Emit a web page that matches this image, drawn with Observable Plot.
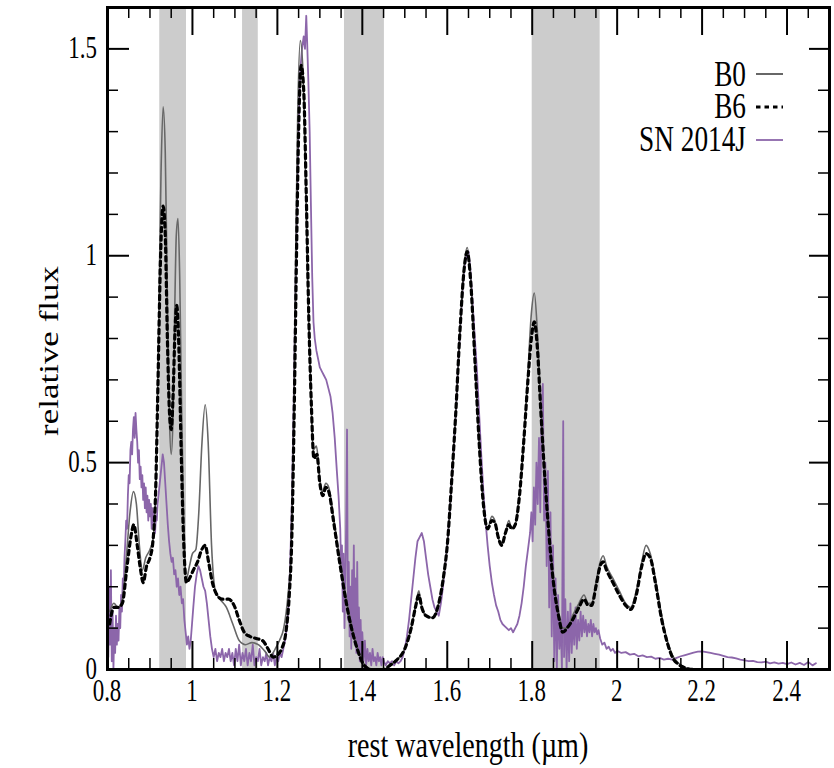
<!DOCTYPE html>
<html>
<head>
<meta charset="utf-8">
<script src="https://cdn.jsdelivr.net/npm/d3@7"></script>
<script src="https://cdn.jsdelivr.net/npm/@observablehq/plot@0.6"></script>
<style>
  html, body { margin: 0; padding: 0; background: #fff; }
  #chart { width: 834px; height: 768px; }
</style>
</head>
<body>
<div id="chart"></div>
<script>
// ---------------- data ----------------
const seriesNames = ["B0", "B6", "SN 2014J"];

const wavelengthMajor = [0.8, 1.0, 1.2, 1.4, 1.6, 1.8, 2.0, 2.2, 2.4];
const wavelengthLabels = ["0.8", "1", "1.2", "1.4", "1.6", "1.8", "2", "2.2", "2.4"];
const fluxMajor = [0, 0.5, 1.0, 1.5];
const fluxLabels = ["0", "0.5", "1", "1.5"];

const bandStart = [0.923, 1.118, 1.358, 1.800];
const bandEnd   = [0.986, 1.155, 1.452, 1.960];

const xTitle = "rest wavelength (µm)";
const yTitle = "relative flux";

// model B0 [wavelength µm, relative flux]
const B0 = [
 [0.805,0.14],[0.815,0.16],[0.825,0.15],[0.835,0.17],[0.845,0.28],[0.853,0.38],[0.861,0.43],[0.868,0.40],
 [0.875,0.30],[0.882,0.24],[0.890,0.27],[0.900,0.29],[0.908,0.32],[0.914,0.45],[0.920,0.80],[0.926,1.20],
 [0.931,1.36],[0.936,1.25],[0.941,0.90],[0.946,0.60],[0.950,0.52],[0.954,0.60],[0.958,0.85],[0.962,1.05],
 [0.966,1.09],[0.970,0.95],[0.975,0.60],[0.980,0.35],[0.986,0.22],[0.993,0.25],[1.000,0.28],[1.008,0.29],
 [1.015,0.38],[1.022,0.54],[1.030,0.64],[1.037,0.55],[1.045,0.30],[1.054,0.19],[1.065,0.17],[1.080,0.15],
 [1.095,0.11],[1.110,0.07],[1.125,0.06],[1.140,0.065],[1.155,0.06],[1.170,0.045],[1.182,0.03],[1.195,0.05],
 [1.205,0.07],[1.215,0.10],[1.225,0.18],[1.232,0.28],[1.238,0.58],[1.243,1.00],[1.248,1.35],[1.254,1.52],
 [1.260,1.45],[1.266,1.20],[1.272,0.90],[1.278,0.70],[1.284,0.53],[1.292,0.54],[1.300,0.46],[1.306,0.43],
 [1.314,0.45],[1.321,0.44],[1.332,0.37],[1.348,0.26],[1.368,0.14],[1.388,0.055],[1.403,0.015],[1.420,0.002],
 [1.450,0.0],[1.465,0.01],[1.480,0.022],[1.500,0.05],[1.515,0.10],[1.525,0.15],[1.533,0.19],[1.540,0.15],
 [1.550,0.13],[1.565,0.125],[1.580,0.16],[1.592,0.23],[1.600,0.30],[1.610,0.45],[1.620,0.62],[1.630,0.82],
 [1.640,0.98],[1.647,1.02],[1.655,0.95],[1.665,0.75],[1.675,0.55],[1.685,0.40],[1.695,0.34],[1.705,0.37],
 [1.712,0.36],[1.720,0.32],[1.728,0.30],[1.737,0.33],[1.745,0.36],[1.752,0.34],[1.760,0.35],[1.770,0.42],
 [1.780,0.55],[1.790,0.72],[1.798,0.86],[1.805,0.91],[1.812,0.82],[1.820,0.65],[1.830,0.47],[1.840,0.33],
 [1.850,0.22],[1.862,0.14],[1.872,0.10],[1.882,0.10],[1.895,0.13],[1.910,0.16],[1.922,0.18],[1.932,0.16],
 [1.940,0.16],[1.950,0.21],[1.960,0.26],[1.967,0.275],[1.975,0.25],[1.990,0.22],[2.005,0.19],[2.020,0.16],
 [2.032,0.15],[2.045,0.19],[2.058,0.26],[2.068,0.30],[2.078,0.28],[2.090,0.22],[2.105,0.13],[2.118,0.07],
 [2.130,0.035],[2.145,0.015],[2.160,0.005],[2.180,0.0],[2.500,0.0]
];

// model B6
const B6 = [
 [0.805,0.11],[0.815,0.15],[0.825,0.15],[0.835,0.16],[0.845,0.24],[0.855,0.32],[0.862,0.35],[0.870,0.30],
 [0.878,0.24],[0.884,0.21],[0.892,0.25],[0.900,0.27],[0.907,0.31],[0.913,0.42],[0.919,0.70],[0.925,1.00],
 [0.931,1.12],[0.936,1.05],[0.941,0.80],[0.946,0.62],[0.950,0.58],[0.954,0.65],[0.959,0.82],[0.963,0.88],
 [0.968,0.78],[0.973,0.55],[0.979,0.32],[0.986,0.21],[0.993,0.22],[1.002,0.24],[1.012,0.26],[1.022,0.29],
 [1.030,0.30],[1.038,0.26],[1.047,0.21],[1.058,0.18],[1.070,0.17],[1.085,0.17],[1.098,0.155],[1.110,0.12],
 [1.122,0.09],[1.135,0.08],[1.150,0.075],[1.165,0.07],[1.178,0.05],[1.190,0.03],[1.200,0.035],[1.210,0.05],
 [1.220,0.09],[1.228,0.18],[1.234,0.32],[1.240,0.65],[1.245,1.00],[1.250,1.30],[1.256,1.46],[1.262,1.40],
 [1.268,1.15],[1.274,0.85],[1.280,0.64],[1.286,0.51],[1.293,0.52],[1.300,0.45],[1.307,0.42],[1.314,0.44],
 [1.321,0.43],[1.332,0.36],[1.348,0.25],[1.368,0.13],[1.388,0.05],[1.403,0.012],[1.420,0.0],
 [1.450,0.0],[1.465,0.01],[1.480,0.022],[1.500,0.05],[1.515,0.10],[1.525,0.15],[1.533,0.18],[1.540,0.15],
 [1.550,0.13],[1.565,0.125],[1.580,0.16],[1.592,0.23],[1.600,0.30],[1.610,0.45],[1.620,0.62],[1.630,0.82],
 [1.640,0.97],[1.647,1.01],[1.655,0.94],[1.665,0.75],[1.675,0.55],[1.685,0.40],[1.695,0.34],[1.705,0.36],
 [1.712,0.355],[1.720,0.32],[1.728,0.30],[1.737,0.33],[1.745,0.35],[1.752,0.34],[1.760,0.35],[1.770,0.42],
 [1.780,0.55],[1.790,0.70],[1.798,0.80],[1.805,0.84],[1.812,0.78],[1.820,0.63],[1.830,0.46],[1.840,0.32],
 [1.850,0.21],[1.862,0.13],[1.872,0.09],[1.882,0.10],[1.895,0.12],[1.910,0.15],[1.922,0.17],[1.932,0.155],
 [1.940,0.155],[1.950,0.20],[1.960,0.25],[1.967,0.26],[1.975,0.24],[1.990,0.21],[2.005,0.18],[2.020,0.155],
 [2.032,0.145],[2.045,0.18],[2.058,0.25],[2.068,0.28],[2.078,0.27],[2.090,0.21],[2.105,0.12],[2.118,0.065],
 [2.130,0.03],[2.145,0.012],[2.160,0.004],[2.180,0.0],[2.500,0.0]
];

// observed SN 2014J spectrum
const SN2014J = [
 [0.800,0.17],[0.802,0.03],[0.804,0.20],[0.806,0.06],[0.808,0.24],[0.810,0.02],[0.812,0.14],[0.814,0.00],
 [0.816,0.10],[0.818,0.04],[0.820,0.13],[0.822,0.06],[0.824,0.11],[0.826,0.07],[0.828,0.15],[0.830,0.10],
 [0.832,0.18],[0.834,0.14],[0.836,0.22],[0.838,0.19],[0.840,0.27],[0.842,0.31],[0.844,0.36],[0.846,0.34],
 [0.848,0.42],[0.850,0.47],[0.852,0.45],[0.854,0.53],[0.856,0.55],[0.858,0.52],[0.860,0.58],[0.862,0.61],
 [0.864,0.56],[0.866,0.62],[0.868,0.58],[0.870,0.55],[0.872,0.50],[0.874,0.53],[0.876,0.46],[0.878,0.49],
 [0.880,0.44],[0.882,0.47],[0.884,0.41],[0.886,0.45],[0.888,0.39],[0.890,0.44],[0.892,0.38],[0.894,0.42],
 [0.896,0.36],[0.898,0.41],[0.900,0.37],[0.902,0.40],[0.904,0.34],[0.906,0.39],[0.908,0.35],[0.910,0.38],
 [0.912,0.33],[0.914,0.37],[0.916,0.36],[0.918,0.40],[0.921,0.43],[0.924,0.46],[0.927,0.49],[0.930,0.52],
 [0.933,0.50],[0.936,0.45],[0.939,0.40],[0.942,0.35],[0.945,0.31],[0.948,0.28],[0.951,0.26],[0.954,0.27],
 [0.957,0.23],[0.960,0.24],[0.963,0.20],[0.966,0.22],[0.969,0.18],[0.972,0.20],[0.975,0.16],[0.978,0.17],
 [0.981,0.12],[0.984,0.09],[0.987,0.06],[0.990,0.08],[0.993,0.05],[0.996,0.07],[0.999,0.11],[1.002,0.15],
 [1.006,0.20],[1.010,0.23],[1.014,0.25],[1.018,0.24],[1.022,0.22],[1.026,0.20],[1.030,0.19],[1.034,0.16],
 [1.038,0.12],[1.042,0.08],[1.046,0.05],[1.050,0.03],[1.054,0.05],[1.058,0.02],[1.062,0.04],[1.066,0.03],
 [1.070,0.05],[1.074,0.02],[1.078,0.04],[1.082,0.03],[1.086,0.05],[1.090,0.02],[1.094,0.04],[1.098,0.01],
 [1.102,0.05],[1.106,0.02],[1.110,0.06],[1.114,0.01],[1.118,0.04],[1.122,0.02],[1.126,0.05],[1.130,0.01],
 [1.134,0.04],[1.138,0.02],[1.142,0.06],[1.146,0.01],[1.150,0.03],[1.154,0.02],[1.158,0.05],[1.162,0.01],
 [1.166,0.03],[1.170,0.02],[1.174,0.04],[1.178,0.01],[1.182,0.03],[1.186,0.02],[1.190,0.04],[1.194,0.01],
 [1.198,0.03],[1.202,0.02],[1.206,0.04],[1.210,0.03],[1.214,0.05],[1.218,0.07],[1.222,0.10],[1.226,0.15],
 [1.230,0.25],[1.234,0.40],[1.238,0.62],[1.242,0.88],[1.246,1.12],[1.250,1.32],[1.254,1.45],[1.258,1.50],
 [1.262,1.53],[1.265,1.50],[1.268,1.58],[1.270,1.52],[1.273,1.42],[1.276,1.30],[1.279,1.12],[1.282,0.95],
 [1.285,0.84],[1.288,0.80],[1.292,0.77],[1.296,0.75],[1.300,0.73],[1.305,0.72],[1.310,0.71],[1.315,0.70],
 [1.320,0.68],[1.325,0.66],[1.330,0.62],[1.335,0.56],[1.340,0.48],[1.344,0.42],[1.348,0.34],[1.350,0.25],
 [1.352,0.30],[1.354,0.14],[1.356,0.28],[1.358,0.10],[1.360,0.22],[1.362,0.35],[1.364,0.58],[1.366,0.12],
 [1.368,0.26],[1.370,0.08],[1.372,0.20],[1.374,0.05],[1.376,0.24],[1.378,0.10],[1.380,0.30],[1.382,0.06],
 [1.384,0.22],[1.386,0.04],[1.388,0.26],[1.390,0.05],[1.392,0.15],[1.394,0.02],[1.396,0.12],[1.398,0.03],
 [1.400,0.09],[1.403,0.02],[1.406,0.07],[1.409,0.01],[1.412,0.05],[1.415,0.02],[1.418,0.04],[1.421,0.01],
 [1.424,0.05],[1.427,0.02],[1.430,0.03],[1.433,0.01],[1.436,0.04],[1.439,0.02],[1.442,0.03],[1.445,0.01],
 [1.448,0.03],[1.451,0.02],[1.455,0.01],[1.460,0.02],[1.465,0.015],[1.470,0.02],[1.475,0.01],[1.480,0.02],
 [1.485,0.015],[1.490,0.02],[1.495,0.03],[1.500,0.05],[1.505,0.08],[1.510,0.12],[1.515,0.17],[1.520,0.22],
 [1.525,0.27],[1.530,0.31],[1.535,0.32],[1.540,0.33],[1.545,0.31],[1.550,0.27],[1.555,0.23],[1.560,0.20],
 [1.565,0.17],[1.570,0.15],[1.575,0.14],[1.580,0.13],[1.585,0.16],[1.590,0.20],[1.595,0.25],[1.600,0.30],
 [1.605,0.37],[1.610,0.45],[1.615,0.53],[1.620,0.62],[1.625,0.72],[1.630,0.82],[1.635,0.90],[1.640,0.97],
 [1.645,1.00],[1.650,1.01],[1.655,0.96],[1.660,0.88],[1.665,0.80],[1.670,0.72],[1.675,0.62],[1.680,0.52],
 [1.685,0.43],[1.690,0.36],[1.695,0.30],[1.700,0.25],[1.705,0.21],[1.710,0.18],[1.715,0.155],[1.720,0.14],
 [1.725,0.12],[1.730,0.11],[1.735,0.105],[1.740,0.10],[1.745,0.095],[1.750,0.10],[1.755,0.09],[1.760,0.10],
 [1.765,0.11],[1.770,0.13],[1.775,0.16],[1.780,0.20],[1.785,0.25],[1.790,0.29],[1.795,0.33],[1.798,0.38],
 [1.801,0.31],[1.804,0.44],[1.807,0.35],[1.810,0.50],[1.813,0.40],[1.816,0.56],[1.819,0.38],[1.822,0.62],
 [1.825,0.69],[1.828,0.36],[1.831,0.50],[1.834,0.25],[1.837,0.48],[1.840,0.15],[1.843,0.38],[1.846,0.08],
 [1.849,0.30],[1.852,0.02],[1.855,0.22],[1.858,0.00],[1.861,0.18],[1.864,0.05],[1.867,0.12],[1.870,0.00],
 [1.873,0.60],[1.875,0.03],[1.878,0.17],[1.881,0.00],[1.884,0.14],[1.887,0.02],[1.890,0.16],[1.893,0.04],
 [1.896,0.13],[1.899,0.06],[1.902,0.15],[1.905,0.05],[1.908,0.12],[1.911,0.07],[1.914,0.14],[1.917,0.08],
 [1.920,0.13],[1.923,0.09],[1.926,0.12],[1.929,0.08],[1.932,0.11],[1.935,0.09],[1.938,0.12],[1.941,0.08],
 [1.944,0.11],[1.947,0.09],[1.950,0.10],[1.953,0.085],[1.956,0.095],[1.960,0.075],[1.965,0.06],[1.970,0.065],
 [1.975,0.05],[1.980,0.055],[1.985,0.045],[1.990,0.05],[1.995,0.04],[2.000,0.045],[2.010,0.04],[2.020,0.042],
 [2.030,0.036],[2.040,0.038],[2.050,0.032],[2.060,0.034],[2.070,0.03],[2.080,0.031],[2.090,0.026],[2.100,0.028],
 [2.110,0.024],[2.120,0.026],[2.130,0.024],[2.140,0.028],[2.150,0.032],[2.160,0.035],[2.170,0.038],[2.180,0.041],
 [2.190,0.043],[2.200,0.044],[2.210,0.042],[2.220,0.04],[2.230,0.038],[2.240,0.036],[2.250,0.033],[2.260,0.03],
 [2.270,0.029],[2.280,0.027],[2.290,0.024],[2.300,0.022],[2.310,0.02],[2.320,0.021],[2.330,0.018],[2.340,0.017],
 [2.350,0.019],[2.360,0.015],[2.370,0.017],[2.380,0.014],[2.390,0.016],[2.400,0.013],[2.410,0.017],[2.420,0.012],
 [2.430,0.016],[2.440,0.011],[2.450,0.018],[2.460,0.010],[2.468,0.015]
];

// ---------------- layout / style ----------------
const W = 834, H = 768;
const mL = 107, mR = 5, mT = 7, mB = 99;
const frameW = W - mL - mR, frameH = H - mT - mB;
const serif = "'Liberation Serif', 'Times New Roman', Times, serif";
const SQUEEZE = 0.78, TICK_SQUEEZE = 0.74;
const colors = { B0: "#676767", B6: "#000000", SN: "#8c66aa" };
const DASH = "4.5,4";
const TICK_FONT = 31;

const minorX = d3.range(1, 34).filter(k => k % 4 !== 0).map(k => +(0.8 + 0.05 * k).toFixed(3));
const minorY = d3.range(1, 16).filter(k => k % 5 !== 0).map(k => +(0.1 * k).toFixed(2));
const bands = bandStart.map((s, i) => ({ start: s, end: bandEnd[i] }));
const fx = d => d[0], fy = d => d[1];

const svg = Plot.plot({
  width: W, height: H,
  marginLeft: mL, marginRight: mR, marginTop: mT, marginBottom: mB,
  x: { domain: [0.8, 2.5], axis: null },
  y: { domain: [0, 1.6], axis: null },
  style: { fontFamily: serif, background: "#fff", color: "#000", overflow: "visible" },
  marks: [
    Plot.rect(bands, { x1: "start", x2: "end", fill: "#cccccc" }),
    Plot.line(SN2014J, { x: fx, y: fy, stroke: colors.SN, strokeWidth: 1.8 }),
    Plot.line(B0, { x: fx, y: fy, stroke: colors.B0, strokeWidth: 1.6, curve: "monotone-x" }),
    Plot.line(B6, { x: fx, y: fy, stroke: colors.B6, strokeWidth: 3.2, strokeDasharray: DASH, curve: "monotone-x" }),
    // inward ticks on all four sides
    Plot.tickX(wavelengthMajor, { x: d => d, insetTop: frameH - 28, stroke: "#000", strokeWidth: 2 }),
    Plot.tickX(wavelengthMajor, { x: d => d, insetBottom: frameH - 28, stroke: "#000", strokeWidth: 2 }),
    Plot.tickX(minorX, { x: d => d, insetTop: frameH - 11, stroke: "#000", strokeWidth: 1.5 }),
    Plot.tickX(minorX, { x: d => d, insetBottom: frameH - 11, stroke: "#000", strokeWidth: 1.5 }),
    Plot.tickY(fluxMajor, { y: d => d, insetRight: frameW - 22, stroke: "#000", strokeWidth: 2 }),
    Plot.tickY(fluxMajor, { y: d => d, insetLeft: frameW - 20, stroke: "#000", strokeWidth: 2 }),
    Plot.tickY(minorY, { y: d => d, insetRight: frameW - 11, stroke: "#000", strokeWidth: 1.5 }),
    Plot.tickY(minorY, { y: d => d, insetLeft: frameW - 11, stroke: "#000", strokeWidth: 1.5 }),
    Plot.frame({ stroke: "#000", strokeWidth: 3 })
  ]
});

const xScale = svg.scale("x"), yScale = svg.scale("y");
const root = d3.select(svg);
const txt = root.append("g").attr("font-family", serif).attr("fill", "#000");

// tick labels, placed through Plot's own scales
wavelengthMajor.forEach((v, i) => {
  txt.append("text").attr("font-size", TICK_FONT).attr("text-anchor", "middle")
    .attr("transform", `translate(${xScale.apply(v)},${mT + frameH + 32}) scale(${TICK_SQUEEZE},1)`)
    .text(wavelengthLabels[i]);
});
fluxMajor.forEach((v, i) => {
  txt.append("text").attr("font-size", TICK_FONT).attr("text-anchor", "end")
    .attr("transform", `translate(${mL - 10},${yScale.apply(v) + 10}) scale(${TICK_SQUEEZE},1)`)
    .text(fluxLabels[i]);
});

// axis titles
txt.append("text").attr("font-size", 36).attr("text-anchor", "middle")
  .attr("transform", `translate(${mL + frameW / 2},757) scale(${SQUEEZE},1)`).text(xTitle);
txt.append("text").attr("font-size", 35).attr("text-anchor", "middle")
  .attr("transform", `translate(58,${mT + frameH / 2 + 13}) rotate(-90) scale(1,${SQUEEZE})`).text(yTitle);

// legend (top-right, inside the frame)
const legendRows = [
  { name: seriesNames[0], stroke: colors.B0, width: 2, dash: null, baseline: 86, lineY: 74 },
  { name: seriesNames[1], stroke: colors.B6, width: 3.2, dash: DASH, baseline: 118, lineY: 107 },
  { name: seriesNames[2], stroke: colors.SN, width: 1.8, dash: null, baseline: 151, lineY: 140 }
];
const textRight = W - mR - 83, lineX1 = W - mR - 73, lineX2 = W - mR - 46;
legendRows.forEach(r => {
  txt.append("text").attr("font-size", 35).attr("text-anchor", "end")
    .attr("transform", `translate(${textRight},${r.baseline}) scale(${SQUEEZE},1)`).text(r.name);
  const ln = root.append("line").attr("x1", lineX1).attr("x2", lineX2)
    .attr("y1", r.lineY).attr("y2", r.lineY)
    .attr("stroke", r.stroke).attr("stroke-width", r.width);
  if (r.dash) ln.attr("stroke-dasharray", r.dash);
});

document.getElementById("chart").appendChild(svg);
</script>
</body>
</html>
